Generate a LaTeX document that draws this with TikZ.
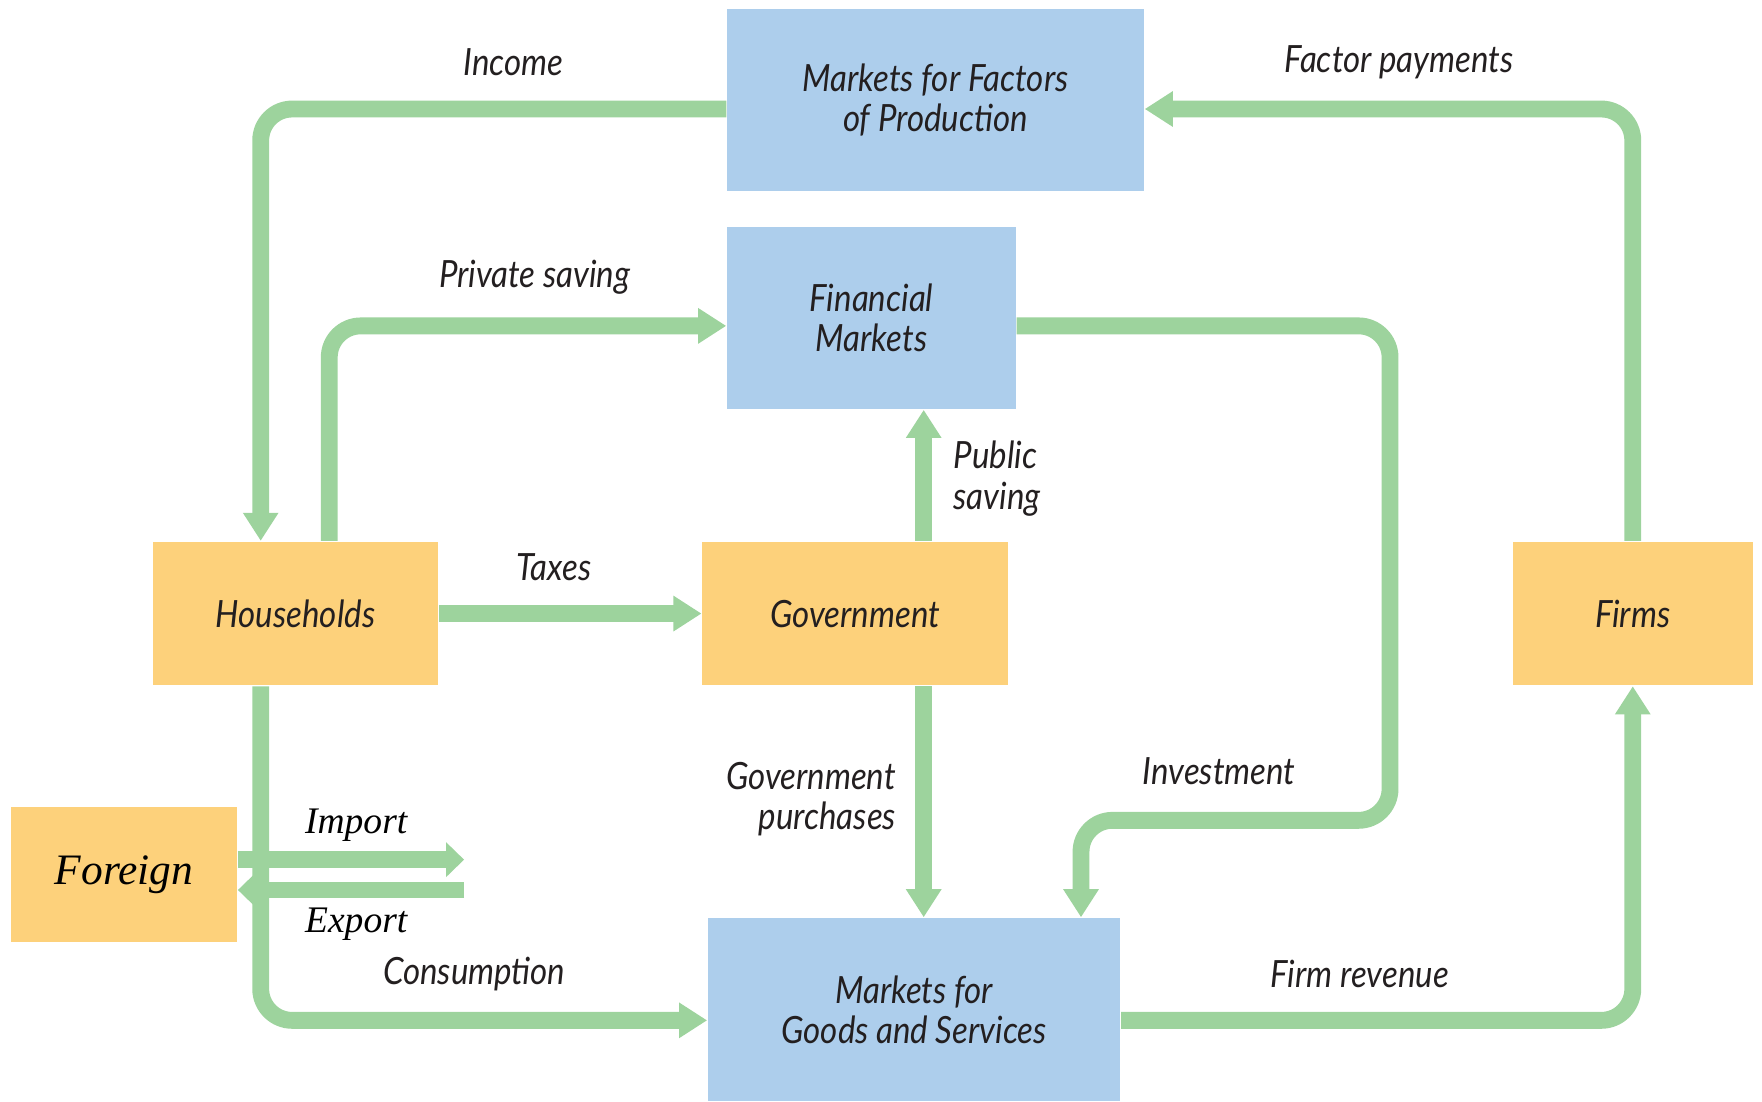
\documentclass[tikz,border=0pt]{standalone}
\usepackage{fontspec}
\usepackage{tikz}
\usetikzlibrary{arrows.meta}
\newfontfamily\lblfont{Lato}[FakeStretch=0.88]
\newfontfamily\tradefont{Liberation Serif}
\definecolor{flowgreen}{RGB}{157,211,157}
\definecolor{mktblue}{RGB}{173,206,236}
\definecolor{agentorange}{RGB}{253,209,123}
\definecolor{lbltext}{RGB}{35,31,32}

\tikzset{
  lbl/.style={text=lbltext, align=center, inner sep=0pt, font=\lblfont\itshape\fontsize{9.5}{10.2}\selectfont},
  market/.style={lbl, fill=mktblue},
  agent/.style={lbl, fill=agentorange},
  trade/.style={text=black, inner sep=0pt, font=\tradefont\itshape\fontsize{9.5}{10}\selectfont},
  flow/.style={draw=flowgreen, line width=1.5mm, rounded corners=2.8mm, -{Triangle[width=3mm,length=2.5mm]}},
  tradeflow/.style={flow, -{Triangle[width=3mm,length=1.6mm]}}
}

\begin{document}
\begin{tikzpicture}[x=0.1mm, y=-0.1mm]
\useasboundingbox (0,0) rectangle (1568,980);
% markets
\node[market, minimum width=37.1mm, minimum height=16.2mm] (factors) at (832.5,89) {Markets for Factors\\of Production};
\node[market, minimum width=25.7mm, minimum height=16.2mm] (financial) at (775.5,283) {Financial\\Markets};
\node[market, minimum width=36.7mm, minimum height=16.3mm] (goods) at (813.5,898.5) {Markets for\\Goods and Services};
% agents
\node[agent, minimum width=25.4mm, minimum height=12.8mm] (households) at (263,546) {Households};
\node[agent, minimum width=27.2mm, minimum height=12.8mm] (government) at (761,546) {Government};
\node[agent, minimum width=21.4mm, minimum height=12.8mm] (firms) at (1453,546) {Firms};
\node[agent, minimum width=20.1mm, minimum height=12mm, font=\tradefont\itshape\fontsize{11}{12}\selectfont, text=black] (foreign) at (110.5,778) {Foreign};

% flows
\draw[flow] ([yshift=-0.8mm]factors.west) -| ([xshift=-3.1mm]households.north);
\draw[flow] (firms.north) |- ([yshift=-0.8mm]factors.east);
\draw[flow] ([xshift=3mm]households.north) |- ([yshift=-0.7mm]financial.west);
\coordinate (invbend) at (1237,730);
\draw[flow] ([yshift=-0.7mm]financial.east) -| (invbend) -| ([xshift=14.85mm]goods.north);
\draw[flow] (households.east) -- (government.west);
\draw[flow] ([xshift=6.1mm]government.north) -- ([xshift=6.1mm]government.north |- financial.south);
\draw[flow] ([xshift=6.1mm]government.south) -- ([xshift=6.1mm]government.south |- goods.north);
\draw[flow] ([xshift=-3.1mm]households.south) |- ([yshift=-0.95mm]goods.west);
\draw[flow] ([yshift=-0.95mm]goods.east) -| (firms.south);
% trade
\coordinate (impend) at (413,765);
\coordinate (expstart) at (413,792);
\draw[tradeflow] (foreign.east |- impend) -- (impend);
\draw[tradeflow] (expstart) -- (foreign.east |- expstart);

% labels
\node[lbl] (incomelbl) at (457,55) {Income};
\node[lbl] (factorpaylbl) at (1245,55) {Factor payments};
\node[lbl] (privsavelbl) at (476,247) {Private saving};
\node[lbl] (taxeslbl) at (493,505) {Taxes};
\node[lbl, align=left, anchor=west] (pubsavelbl) at (848,426) {Public\\saving};
\node[lbl, align=right, anchor=east] (govpurchlbl) at (798,711) {Government\\purchases};
\node[lbl] (investlbl) at (1085,686) {Investment};
\node[lbl] (consumelbl) at (422,867) {Consumption};
\node[lbl] (revenuelbl) at (1210,867) {Firm revenue};
\node[trade] (importlbl) at (317,734) {Import};
\node[trade] (exportlbl) at (317,822) {Export};
\end{tikzpicture}
\end{document}
